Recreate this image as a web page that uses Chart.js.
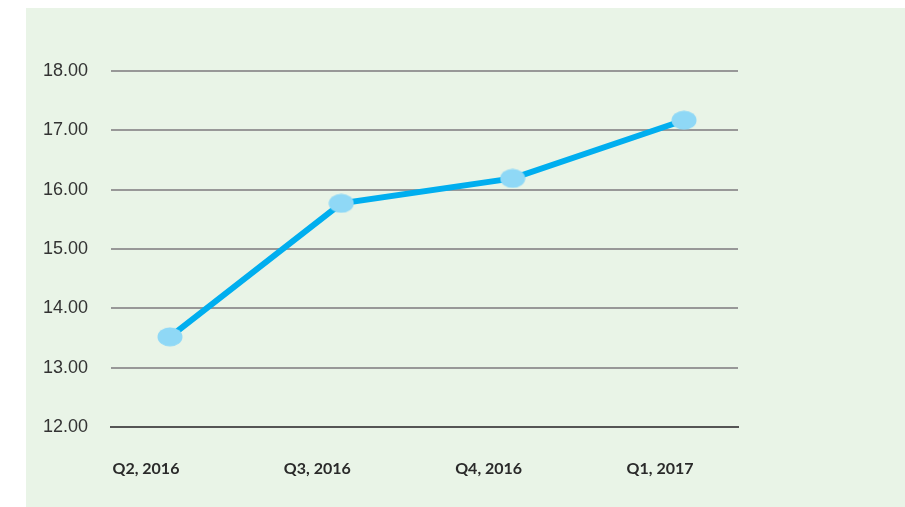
<!DOCTYPE html>
<html>
<head>
<meta charset="utf-8">
<script src="https://cdn.jsdelivr.net/npm/chart.js@4.4.1/dist/chart.umd.min.js"></script>
<style>
  html, body { margin: 0; padding: 0; background: #ffffff; }
  #wrap { width: 905px; height: 507px; position: relative; }
</style>
</head>
<body>
<div id="wrap"><canvas id="c" width="905" height="507"></canvas></div>
<script>
// Data
const categories = ["Q2, 2016", "Q3, 2016", "Q4, 2016", "Q1, 2017"];
const values = [13.52, 15.77, 16.19, 17.17];
const yTicks = [12, 13, 14, 15, 16, 17, 18];

// Elliptical marker
const marker = document.createElement('canvas');
marker.width = 26; marker.height = 20;
(function () {
  const g = marker.getContext('2d');
  g.fillStyle = '#8fd8f6';
  g.beginPath();
  g.ellipse(13, 10, 12.5, 9.5, 0, 0, Math.PI * 2);
  g.fill();
})();

const panelBg = {
  id: 'panelBg',
  beforeDraw(chart) {
    const ctx = chart.ctx;
    ctx.save();
    ctx.fillStyle = '#e9f4e7';
    ctx.fillRect(26, 8, chart.width - 26, chart.height - 8);
    ctx.restore();
  }
};

new Chart(document.getElementById('c'), {
  type: 'line',
  data: {
    datasets: [{
      data: values.map((v, i) => ({ x: i, y: v })),
      borderColor: '#00aeef',
      borderWidth: 6,
      tension: 0,
      pointStyle: marker,
      pointRadius: 10,
      pointHoverRadius: 10,
      clip: false
    }]
  },
  options: {
    responsive: false,
    animation: false,
    events: [],
    layout: { padding: { left: 0, right: 167, top: 71, bottom: 0 } },
    plugins: { legend: { display: false }, tooltip: { enabled: false } },
    scales: {
      x: {
        type: 'linear',
        min: -0.344,
        max: 3.315,
        afterBuildTicks: s => { s.ticks = categories.map((_, i) => ({ value: i })); },
        afterFit: s => { s.height = 80; },
        grid: { display: false, drawTicks: false },
        border: { display: true, color: '#555555', width: 2 },
        ticks: {
          autoSkip: false,
          maxRotation: 0,
          padding: 32,
          labelOffset: -24,
          color: '#2a2a2a',
          font: { family: 'Lato', size: 16, weight: 'bold' },
          callback: v => categories[v]
        }
      },
      y: {
        min: 12,
        max: 18,
        afterBuildTicks: s => { s.ticks = yTicks.map(v => ({ value: v })); },
        afterFit: s => { s.width = 111; },
        grid: {
          drawTicks: false,
          color: ctx => (ctx.tick && ctx.tick.value === 12) ? 'rgba(0,0,0,0)' : '#989898',
          lineWidth: 2
        },
        border: { display: false },
        ticks: {
          padding: 23,
          color: '#333333',
          font: { family: 'Liberation Sans', size: 18 },
          callback: v => v.toFixed(2)
        }
      }
    }
  },
  plugins: [panelBg]
});
</script>
</body>
</html>
